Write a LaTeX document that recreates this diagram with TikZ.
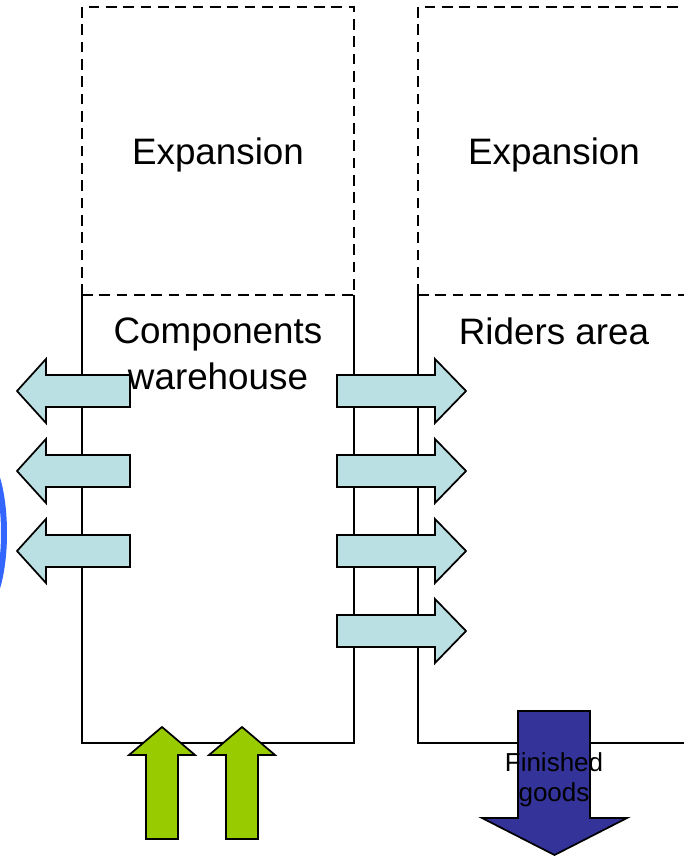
\documentclass[tikz,border=0pt]{standalone}
\usepackage{fontspec}
\setmainfont{Liberation Sans}
\definecolor{lblue}{HTML}{BBE0E3}
\definecolor{lgreen}{HTML}{99CC00}
\definecolor{dblue}{HTML}{333399}
\definecolor{ring}{HTML}{3366FF}
\begin{document}
\begin{tikzpicture}[x=0.75pt,y=-0.75pt,
  wall/.style={line width=1.6pt,black},
  dwall/.style={line width=1.6pt,black,dash pattern=on 8pt off 5pt},
  arr/.style={draw=black,line width=1.3pt,line join=miter},
  big/.style={font=\fontsize{27.6}{34.5}\selectfont,align=center,inner sep=0pt},
  small/.style={font=\fontsize{19.5}{22.5}\selectfont,align=center,inner sep=0pt}]
\useasboundingbox (0,0) rectangle (684,856);
\begin{scope}
\clip (0,0) rectangle (684,856);
% blue ring
\draw[ring,line width=4.5pt] (-20,533) ellipse (24 and 78);
% expansion (dashed)
\draw[dwall] (82,295) -- (82,7) -- (354,7) -- (354,295);
\draw[dwall] (82,295) -- (354,295);
\draw[dwall] (418,295) -- (418,7) -- (690,7);
\draw[dwall] (418,295) -- (690,295);
% solid walls
\draw[wall] (82,295) -- (82,743) -- (354,743) -- (354,295);
\draw[wall] (418,295) -- (418,743) -- (690,743);
% left arrows
\foreach \y in {391,471,551}{
  \draw[arr,fill=lblue] (130,\y-16) -- (46,\y-16) -- (46,\y-32) -- (17,\y) -- (46,\y+32) -- (46,\y+16) -- (130,\y+16) -- cycle;
}
% right arrows
\foreach \y in {391,471,551,631}{
  \draw[arr,fill=lblue] (337,\y-16) -- (435,\y-16) -- (435,\y-32) -- (466,\y) -- (435,\y+32) -- (435,\y+16) -- (337,\y+16) -- cycle;
}
% green arrows
\foreach \x in {162,242}{
  \draw[arr,fill=lgreen] (\x-16,839) -- (\x-16,755) -- (\x-33,755) -- (\x,727) -- (\x+33,755) -- (\x+16,755) -- (\x+16,839) -- cycle;
}
% blue arrow
\draw[arr,fill=dblue] (518,711) -- (590,711) -- (590,818) -- (627,818) -- (554.5,855) -- (482,818) -- (518,818) -- cycle;
\end{scope}
% labels
\node[big] (exp1) at (218,155) {Expansion};
\node[big] (exp2) at (554,155) {Expansion};
\node[big] (comp) at (218,354) {Components\\warehouse};
\node[big] (riders) at (554,331) {Riders area};
\node[small] (fin) at (554,780) {Finished\\goods};
\end{tikzpicture}
\end{document}
